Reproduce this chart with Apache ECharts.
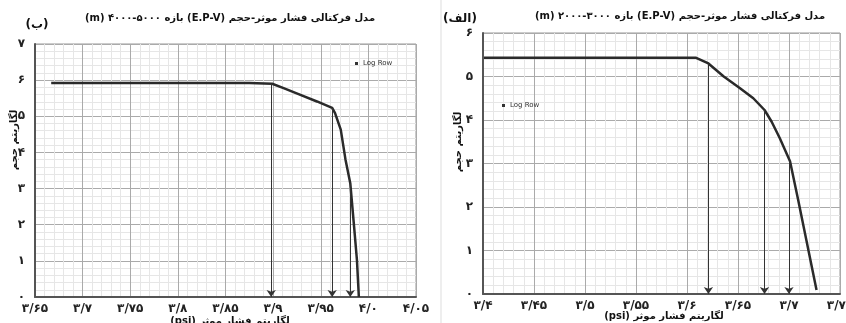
<!DOCTYPE html>
<html>
<head>
<meta charset="utf-8">
<script src="https://cdn.jsdelivr.net/npm/echarts@6/dist/echarts.min.js"></script>
<style>
  html, body { margin: 0; padding: 0; background: #fff; }
  #chart { width: 846px; height: 323px; direction: rtl; }
</style>
</head>
<body>
<div id="chart"></div>
<script>
// panel (ب) : 4000-5000 m
const leftX = [3.667, 3.875, 3.899, 3.911, 3.928, 3.946, 3.962, 3.965, 3.971, 3.976, 3.981, 3.985, 3.988, 3.990]
const leftY = [5.92, 5.92, 5.90, 5.78, 5.60, 5.41, 5.23, 5.09, 4.63, 3.80, 3.15, 1.95, 1.02, 0.0]
const leftArrowX = [3.898, 3.962, 3.981]
const leftArrowTop = [5.90, 5.23, 3.15]

// panel (الف) : 2000-3000 m
const rightX = [3.401, 3.609, 3.621, 3.636, 3.652, 3.665, 3.676, 3.683, 3.691, 3.701, 3.709, 3.717, 3.727]
const rightY = [5.43, 5.43, 5.30, 5.00, 4.73, 4.50, 4.23, 3.96, 3.58, 3.05, 2.16, 1.24, 0.09]
const rightArrowX = [3.621, 3.676, 3.700]
const rightArrowTop = [5.30, 4.23, 3.05]

// tick labels
const leftXLabels = ['۳/۶۵', '۳/۷', '۳/۷۵', '۳/۸', '۳/۸۵', '۳/۹', '۳/۹۵', '۴/۰', '۴/۰۵']
const rightXLabels = ['۳/۴', '۳/۴۵', '۳/۵', '۳/۵۵', '۳/۶', '۳/۶۵', '۳/۷', '۳/۷۵']
const leftYLabels = ['۰', '۱', '۲', '۳', '۴', '۵', '۶', '۷']
const rightYLabels = ['۰', '۱', '۲', '۳', '۴', '۵', '۶']

const leftTitle = 'مدل فرکتالی فشار موثر-حجم (E.P-V) بازه ۵۰۰۰-۴۰۰۰ (m)'
const rightTitle = 'مدل فرکتالی فشار موثر-حجم (E.P-V) بازه ۳۰۰۰-۲۰۰۰ (m)'
const xName = 'لگاریتم فشار موثر (psi)'
const yName = 'لگاریتم حجم'

const font = '"DejaVu Sans", sans-serif'

function xAxisOf (grid, min, max, labels) {
  return {
    type: 'value',
    gridIndex: grid,
    min: min,
    max: max,
    interval: 0.05,
    axisLine: { lineStyle: { color: '#555', width: 2 } },
    axisTick: { show: false },
    axisLabel: {
      color: '#222',
      fontFamily: font,
      fontWeight: 'bold',
      fontSize: 12,
      margin: 6,
      formatter: v => labels[Math.round((v - min) / 0.05)]
    },
    splitLine: { lineStyle: { color: '#aaa', width: 1 } },
    minorTick: { show: false, splitNumber: 5 },
    minorSplitLine: { show: true, lineStyle: { color: '#e6e6e6', width: 1 } }
  }
}

function yAxisOf (grid, max, labels) {
  return {
    type: 'value',
    gridIndex: grid,
    min: 0,
    max: max,
    interval: 1,
    axisLine: { show: true, lineStyle: { color: '#555', width: 2 } },
    axisTick: { show: false },
    axisLabel: {
      color: '#222',
      fontFamily: font,
      fontWeight: 'bold',
      fontSize: 12,
      margin: 10,
      formatter: v => labels[Math.round(v)]
    },
    splitLine: { lineStyle: { color: '#aaa', width: 1 } },
    minorTick: { show: false, splitNumber: 5 },
    minorSplitLine: { show: true, lineStyle: { color: '#e6e6e6', width: 1 } }
  }
}

function curve (grid, xs, ys, ax, at) {
  return {
    name: 'Log Row',
    type: 'line',
    xAxisIndex: grid,
    yAxisIndex: grid,
    data: xs.map((x, i) => [x, ys[i]]),
    showSymbol: false,
    color: '#333',
    lineStyle: { color: '#2a2a2a', width: 2.5 },
    markLine: {
      silent: true,
      symbol: ['none', 'arrow'],
      symbolSize: 7,
      label: { show: false },
      lineStyle: { color: '#333', width: 1, type: 'solid' },
      data: ax.map((x, i) => [{ coord: [x, at[i]] }, { coord: [x, 0] }])
    }
  }
}

function text (x, y, str, size, rot) {
  return {
    type: 'text',
    x: x,
    y: y,
    rotation: rot || 0,
    style: {
      text: str,
      fill: '#111',
      font: 'bold ' + size + 'px ' + font,
      align: 'center',
      verticalAlign: 'middle'
    }
  }
}

const myChart = echarts.init(document.getElementById('chart'), null, { renderer: 'canvas' })

const option = {
  backgroundColor: '#fff',
  animation: false,
  grid: [
    { left: 35, right: 430, top: 44, bottom: 26, show: true, borderColor: '#999', borderWidth: 1, outerBoundsMode: 'none' },
    { left: 483, right: 6, top: 33, bottom: 29, show: true, borderColor: '#999', borderWidth: 1, outerBoundsMode: 'none' }
  ],
  xAxis: [
    xAxisOf(0, 3.65, 4.05, leftXLabels),
    xAxisOf(1, 3.4, 3.75, rightXLabels)
  ],
  yAxis: [
    yAxisOf(0, 7, leftYLabels),
    yAxisOf(1, 6, rightYLabels)
  ],
  legend: [
    {
      data: ['Log Row'], left: 350, top: 55, icon: 'rect', itemWidth: 3, itemHeight: 3, itemGap: 3,
      textStyle: { fontSize: 7, fontFamily: font, color: '#333' }
    },
    {
      data: ['Log Row'], left: 497, top: 97, icon: 'rect', itemWidth: 3, itemHeight: 3, itemGap: 3,
      textStyle: { fontSize: 7, fontFamily: font, color: '#333' }
    }
  ],
  graphic: [
    // faint page margin line between the two figures
    { type: 'line', shape: { x1: 441, y1: 0, x2: 441, y2: 323 }, style: { stroke: '#ddd', lineWidth: 1 } },
    text(230, 18, leftTitle, 10),
    text(680, 16, rightTitle, 10),
    text(37, 25, '(ب)', 12),
    text(460, 19, '(الف)', 12),
    text(14, 140, yName, 10, Math.PI / 2),
    text(458, 142, yName, 10, Math.PI / 2),
    text(230, 321, xName, 10),
    text(664, 316, xName, 10)
  ],
  series: [
    curve(0, leftX, leftY, leftArrowX, leftArrowTop),
    curve(1, rightX, rightY, rightArrowX, rightArrowTop)
  ]
}

myChart.setOption(option)
window.addEventListener('resize', () => {
  myChart.resize()
})
</script>
</body>
</html>
